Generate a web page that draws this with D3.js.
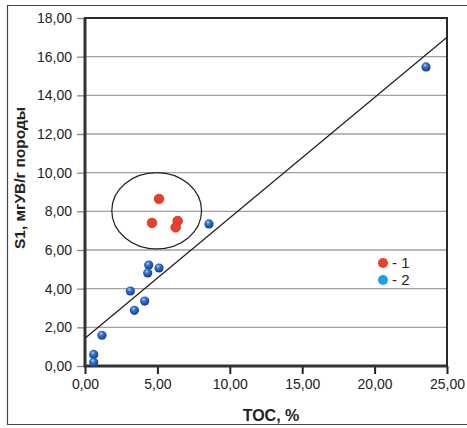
<!DOCTYPE html>
<meta charset="utf-8">
<head>
  <style>
    body { margin: 0; background: #fff; font-family: "Liberation Sans", Arial, sans-serif; }
    .tick text { font-size: 14px; fill: #222; }
    .grid line { stroke: #a0a0a0; stroke-width: 1.3; }
  </style>
</head>
<body>
  <div class="chart"></div>
  <script src="https://d3js.org/d3.v7.min.js"></script>
  <script>
    // data
    var blueX = [23.55, 8.56, 4.40, 4.33, 5.11, 3.13, 4.12, 3.41, 1.17, 0.60, 0.60];
    var blueY = [15.47, 7.35, 5.22, 4.81, 5.07, 3.88, 3.36, 2.88, 1.59, 0.60, 0.19];
    var redX = [5.11, 4.63, 6.40, 6.26];
    var redY = [8.64, 7.40, 7.50, 7.17];
    var trendX = [0, 25];
    var trendY = [1.43, 17.0];
    var xTicks = [0, 5, 10, 15, 20, 25];
    var yTicks = [0, 2, 4, 6, 8, 10, 12, 14, 16, 18];
    var legendLabels = ["- 1", "- 2"];
    var legendColors = ["#e8402a", "#1ea2dc"];

    var W = 467, H = 428;
    var margin = { top: 18, right: 20, bottom: 62, left: 85 };
    var width = W - margin.left - margin.right,
        height = H - margin.top - margin.bottom;

    var svg = d3.select(".chart").append("svg")
        .attr("width", W)
        .attr("height", H);

    var defs = svg.append("defs");
    var grad = defs.append("radialGradient")
        .attr("id", "ball")
        .attr("cx", "45%").attr("cy", "40%").attr("r", "60%")
        .attr("fx", "38%").attr("fy", "30%");
    grad.append("stop").attr("offset", "0%").attr("stop-color", "#b5d0f7");
    grad.append("stop").attr("offset", "35%").attr("stop-color", "#3a78d4");
    grad.append("stop").attr("offset", "100%").attr("stop-color", "#0f3a8c");

    // outer frame
    svg.append("path")
        .attr("d", "M" + W + ",5.5H7.5V424.5H" + W)
        .attr("fill", "none")
        .attr("stroke", "#444")
        .attr("stroke-width", 1.2);

    var g = svg.append("g")
        .attr("transform", "translate(" + margin.left + "," + margin.top + ")");

    var x = d3.scaleLinear().domain([0, 25]).range([0, width]);
    var y = d3.scaleLinear().domain([0, 18]).range([height, 0]);

    var fmt = function (d) { return d3.format(".2f")(d).replace(".", ","); };

    // gridlines
    g.append("g").attr("class", "grid")
      .selectAll("line")
      .data(yTicks.slice(1, -1))
      .enter().append("line")
        .attr("x1", 0).attr("x2", width)
        .attr("y1", function (d) { return y(d); })
        .attr("y2", function (d) { return y(d); });

    // axes
    var yAxis = g.append("g")
        .call(d3.axisLeft(y).tickValues(yTicks).tickFormat(fmt).tickSize(8).tickPadding(5));
    yAxis.select(".domain").remove();
    yAxis.selectAll(".tick line").attr("stroke", "#888").attr("stroke-width", 1.3);

    var xAxis = g.append("g")
        .attr("transform", "translate(0," + height + ")")
        .call(d3.axisBottom(x).tickValues(xTicks).tickFormat(fmt).tickSize(8).tickPadding(5));
    xAxis.select(".domain").remove();
    xAxis.selectAll(".tick line").attr("stroke", "#222").attr("stroke-width", 2);

    // plot border
    g.append("rect")
        .attr("x", 0).attr("y", 0)
        .attr("width", width).attr("height", height)
        .attr("fill", "none")
        .attr("stroke", "#2a2a2a")
        .attr("stroke-width", 2);
    g.append("path")
        .attr("d", "M0,0V" + height + "H" + width)
        .attr("fill", "none")
        .attr("stroke", "#333")
        .attr("stroke-width", 3);

    // trend line
    g.append("line")
        .attr("x1", x(trendX[0])).attr("y1", y(trendY[0]))
        .attr("x2", x(trendX[1])).attr("y2", y(trendY[1]))
        .attr("stroke", "#222")
        .attr("stroke-width", 1.3);

    // ellipse around group 1
    g.append("ellipse")
        .attr("cx", x(4.95)).attr("cy", y(8.03))
        .attr("rx", x(3.1) - x(0)).attr("ry", y(0) - y(1.97))
        .attr("fill", "none")
        .attr("stroke", "#222")
        .attr("stroke-width", 1.2);

    // points
    g.selectAll(".blue")
        .data(blueX)
      .enter().append("circle")
        .attr("class", "blue")
        .attr("cx", function (d) { return x(d); })
        .attr("cy", function (d, i) { return y(blueY[i]); })
        .attr("r", 4.6)
        .attr("fill", "url(#ball)");

    g.selectAll(".red")
        .data(redX)
      .enter().append("circle")
        .attr("class", "red")
        .attr("cx", function (d) { return x(d); })
        .attr("cy", function (d, i) { return y(redY[i]); })
        .attr("r", 4.8)
        .attr("fill", "#e8402a")
        .attr("stroke", "#c8321e")
        .attr("stroke-width", 0.8);

    // legend
    var leg = svg.append("g").attr("transform", "translate(383,263)");
    leg.selectAll("circle")
        .data(legendColors)
      .enter().append("circle")
        .attr("cx", 0)
        .attr("cy", function (d, i) { return i * 17; })
        .attr("r", 5)
        .attr("fill", function (d) { return d; });
    leg.selectAll("text")
        .data(legendLabels)
      .enter().append("text")
        .attr("x", 9)
        .attr("y", function (d, i) { return i * 17 + 5; })
        .style("font-size", "15px")
        .attr("fill", "#222")
        .text(function (d) { return d; });

    // axis titles
    svg.append("text")
        .attr("x", 271).attr("y", 421)
        .attr("text-anchor", "middle")
        .style("font-size", "16px")
        .style("font-weight", "bold")
        .attr("fill", "#222")
        .text("TOC, %");

    svg.append("text")
        .attr("transform", "translate(25,178) rotate(-90)")
        .attr("text-anchor", "middle")
        .style("font-size", "15.5px")
        .style("font-weight", "bold")
        .attr("fill", "#222")
        .text("S1, мгУВ/г породы");
  </script>
</body>
